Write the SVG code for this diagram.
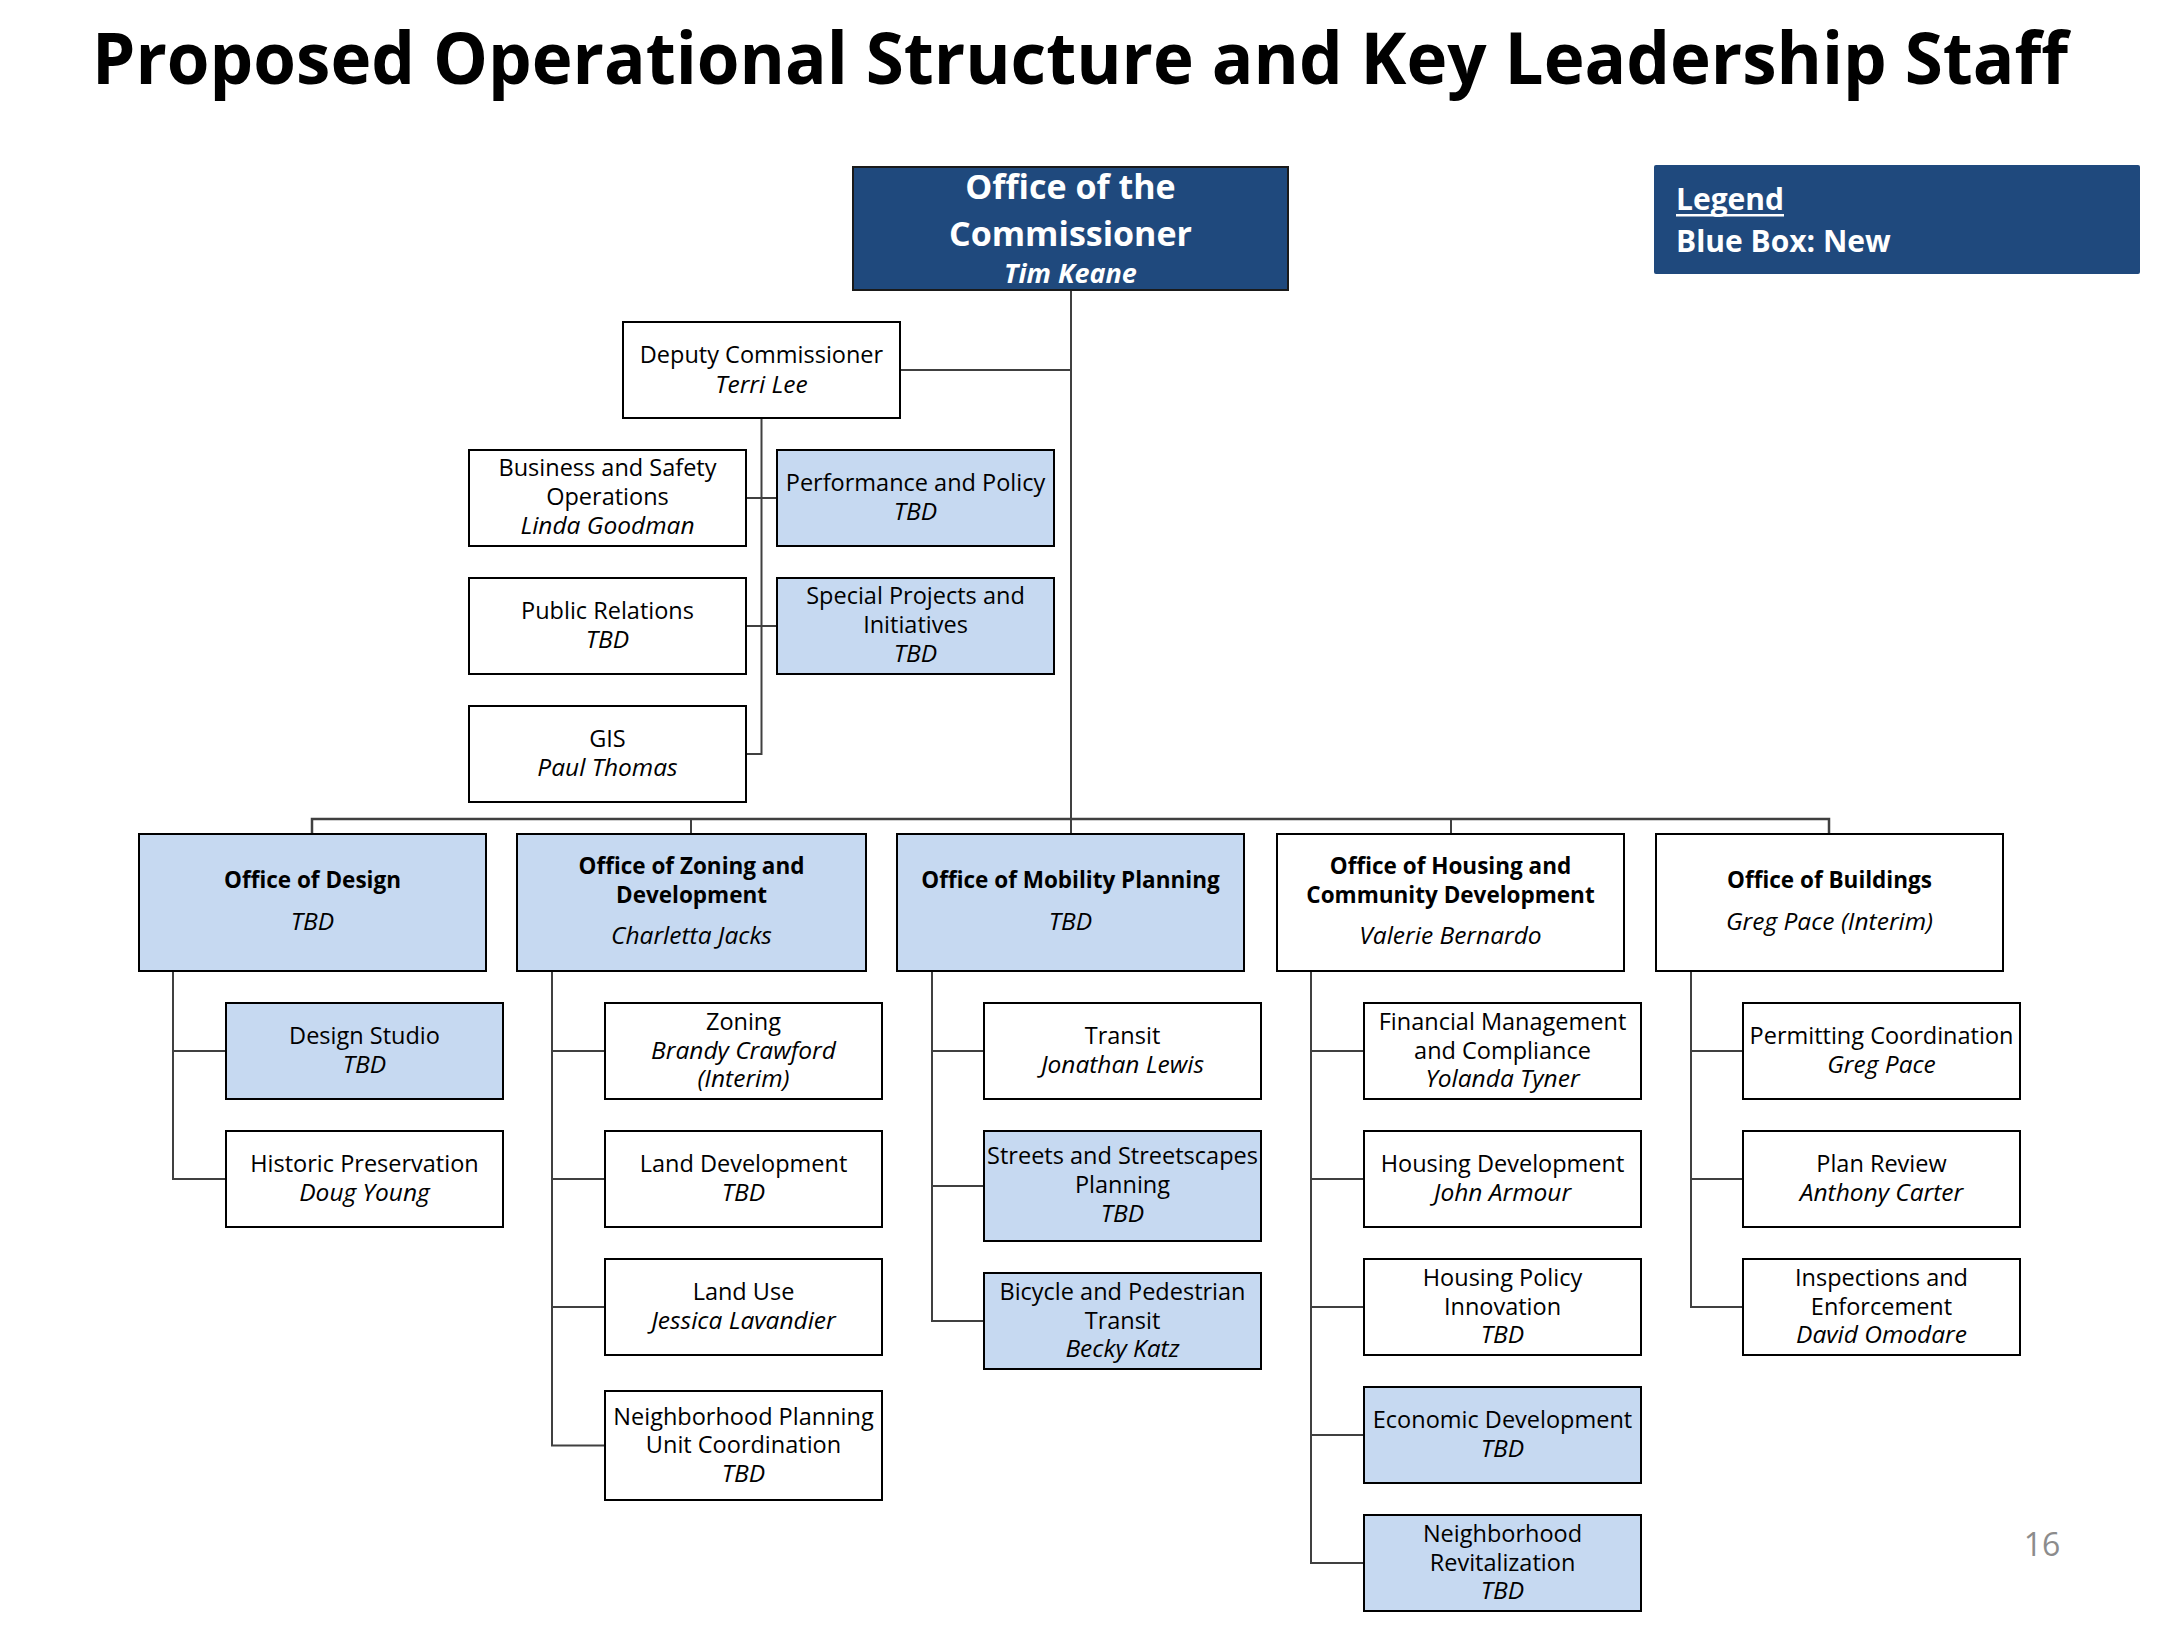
<svg xmlns="http://www.w3.org/2000/svg" width="2158" height="1632" viewBox="0 0 2158 1632">
<style>
  .box{fill:#ffffff;stroke:#000000;stroke-width:2}
  .new{fill:#C6D9F1}
  .dark{fill:#1F497D;stroke:#1a1a1a;stroke-width:2}
  .t{font-family:"Open Sans","DejaVu Sans",sans-serif;font-size:23.5px;fill:#000;text-anchor:middle}
  .i{font-style:italic;font-size:24.5px}
  .h{font-weight:bold;font-size:22.5px}
  .w{fill:#ffffff;font-weight:bold}
  .big{font-size:34px}
  .mid{font-size:27px}
  .conn{fill:none;stroke:#404040;stroke-width:2}
  .bus{fill:none;stroke:#404040;stroke-width:2.5}
</style>
<rect width="2158" height="1632" fill="#ffffff"/>
<text x="92" y="84" font-family="'Open Sans','DejaVu Sans',sans-serif" font-weight="bold" font-size="72" textLength="1976" lengthAdjust="spacingAndGlyphs" fill="#000">Proposed Operational Structure and Key Leadership Staff</text>

<g id="connectors">
  <path class="conn" d="M1071 290 V834"/>
  <path class="conn" d="M900 370 H1071"/>
  <path class="conn" d="M761.5 418 V754 H746"/>
  <path class="conn" d="M746 498 H777 M746 626 H777"/>
  <path class="bus" d="M312 834 V819 H1829 V834"/>
  <path class="conn" d="M691 819 V834 M1451 819 V834"/>
  <path class="conn" d="M173 971 V1179 H226 M173 1051 H226"/>
  <path class="conn" d="M552 971 V1445.5 H605 M552 1051 H605 M552 1179 H605 M552 1307 H605"/>
  <path class="conn" d="M932 971 V1321 H984 M932 1051 H984 M932 1186 H984"/>
  <path class="conn" d="M1311 971 V1563 H1364 M1311 1051 H1364 M1311 1179 H1364 M1311 1307 H1364 M1311 1435 H1364"/>
  <path class="conn" d="M1691 971 V1307 H1743 M1691 1051 H1743 M1691 1179 H1743"/>
</g>

<g id="commissioner">
  <rect class="dark" x="853" y="167" width="435" height="123"/>
  <text class="t w big" x="1070.5" y="199">Office of the</text>
  <text class="t w big" x="1070.5" y="246">Commissioner</text>
  <text class="t w i mid" x="1070.5" y="283">Tim Keane</text>
</g>

<g id="legend">
  <rect x="1654" y="165" width="486" height="109" fill="#1F497D" rx="2"/>
  <text x="1676" y="210" font-family="'Open Sans','DejaVu Sans',sans-serif" font-weight="bold" font-size="30" fill="#fff">Legend</text>
  <rect x="1676" y="214" width="108" height="2.5" fill="#fff"/>
  <text x="1676" y="252" font-family="'Open Sans','DejaVu Sans',sans-serif" font-weight="bold" font-size="30" fill="#fff">Blue Box: New</text>
</g>

<g id="deputy">
  <rect class="box" x="623" y="322" width="277" height="96"/>
  <text class="t" x="761.5" y="363">Deputy Commissioner</text>
  <text class="t i" x="761.5" y="393">Terri Lee</text>
</g>
<g id="business-safety">
  <rect class="box" x="469" y="450" width="277" height="96"/>
  <text class="t" x="607.5" y="476">Business and Safety</text>
  <text class="t" x="607.5" y="505">Operations</text>
  <text class="t i" x="607.5" y="534">Linda Goodman</text>
</g>
<g id="performance-policy">
  <rect class="box new" x="777" y="450" width="277" height="96"/>
  <text class="t" x="915.5" y="491">Performance and Policy</text>
  <text class="t i" x="915.5" y="520">TBD</text>
</g>
<g id="public-relations">
  <rect class="box" x="469" y="578" width="277" height="96"/>
  <text class="t" x="607.5" y="619">Public Relations</text>
  <text class="t i" x="607.5" y="648">TBD</text>
</g>
<g id="special-projects">
  <rect class="box new" x="777" y="578" width="277" height="96"/>
  <text class="t" x="915.5" y="604">Special Projects and</text>
  <text class="t" x="915.5" y="633">Initiatives</text>
  <text class="t i" x="915.5" y="662">TBD</text>
</g>
<g id="gis">
  <rect class="box" x="469" y="706" width="277" height="96"/>
  <text class="t" x="607.5" y="747">GIS</text>
  <text class="t i" x="607.5" y="776">Paul Thomas</text>
</g>

<g id="office-design">
  <rect class="box new" x="139" y="834" width="347" height="137"/>
  <text class="t h" x="312.5" y="888">Office of Design</text>
  <text class="t i" x="312.5" y="930">TBD</text>
</g>
<g id="office-zoning">
  <rect class="box new" x="517" y="834" width="349" height="137"/>
  <text class="t h" x="691.5" y="874">Office of Zoning and</text>
  <text class="t h" x="691.5" y="903">Development</text>
  <text class="t i" x="691.5" y="944">Charletta Jacks</text>
</g>
<g id="office-mobility">
  <rect class="box new" x="897" y="834" width="347" height="137"/>
  <text class="t h" x="1070.5" y="888">Office of Mobility Planning</text>
  <text class="t i" x="1070.5" y="930">TBD</text>
</g>
<g id="office-housing">
  <rect class="box" x="1277" y="834" width="347" height="137"/>
  <text class="t h" x="1450.5" y="874">Office of Housing and</text>
  <text class="t h" x="1450.5" y="903">Community Development</text>
  <text class="t i" x="1450.5" y="944">Valerie Bernardo</text>
</g>
<g id="office-buildings">
  <rect class="box" x="1656" y="834" width="347" height="137"/>
  <text class="t h" x="1829.5" y="888">Office of Buildings</text>
  <text class="t i" x="1829.5" y="930">Greg Pace (Interim)</text>
</g>

<g id="design-studio">
  <rect class="box new" x="226" y="1003" width="277" height="96"/>
  <text class="t" x="364.5" y="1044">Design Studio</text>
  <text class="t i" x="364.5" y="1073">TBD</text>
</g>
<g id="historic-preservation">
  <rect class="box" x="226" y="1131" width="277" height="96"/>
  <text class="t" x="364.5" y="1172">Historic Preservation</text>
  <text class="t i" x="364.5" y="1201">Doug Young</text>
</g>

<g id="zoning">
  <rect class="box" x="605" y="1003" width="277" height="96"/>
  <text class="t" x="743.5" y="1030">Zoning</text>
  <text class="t i" x="743.5" y="1058.5">Brandy Crawford</text>
  <text class="t i" x="743.5" y="1087">(Interim)</text>
</g>
<g id="land-development">
  <rect class="box" x="605" y="1131" width="277" height="96"/>
  <text class="t" x="743.5" y="1172">Land Development</text>
  <text class="t i" x="743.5" y="1201">TBD</text>
</g>
<g id="land-use">
  <rect class="box" x="605" y="1259" width="277" height="96"/>
  <text class="t" x="743.5" y="1300">Land Use</text>
  <text class="t i" x="743.5" y="1329">Jessica Lavandier</text>
</g>
<g id="npu-coordination">
  <rect class="box" x="605" y="1391" width="277" height="109"/>
  <text class="t" x="743.5" y="1424.5">Neighborhood Planning</text>
  <text class="t" x="743.5" y="1453">Unit Coordination</text>
  <text class="t i" x="743.5" y="1481.5">TBD</text>
</g>

<g id="transit">
  <rect class="box" x="984" y="1003" width="277" height="96"/>
  <text class="t" x="1122.5" y="1044">Transit</text>
  <text class="t i" x="1122.5" y="1073">Jonathan Lewis</text>
</g>
<g id="streets">
  <rect class="box new" x="984" y="1131" width="277" height="110"/>
  <text class="t" x="1122.5" y="1164">Streets and Streetscapes</text>
  <text class="t" x="1122.5" y="1193">Planning</text>
  <text class="t i" x="1122.5" y="1222">TBD</text>
</g>
<g id="bicycle-pedestrian">
  <rect class="box new" x="984" y="1273" width="277" height="96"/>
  <text class="t" x="1122.5" y="1300">Bicycle and Pedestrian</text>
  <text class="t" x="1122.5" y="1328.5">Transit</text>
  <text class="t i" x="1122.5" y="1357">Becky Katz</text>
</g>

<g id="financial-management">
  <rect class="box" x="1364" y="1003" width="277" height="96"/>
  <text class="t" x="1502.5" y="1030">Financial Management</text>
  <text class="t" x="1502.5" y="1058.5">and Compliance</text>
  <text class="t i" x="1502.5" y="1087">Yolanda Tyner</text>
</g>
<g id="housing-development">
  <rect class="box" x="1364" y="1131" width="277" height="96"/>
  <text class="t" x="1502.5" y="1172">Housing Development</text>
  <text class="t i" x="1502.5" y="1201">John Armour</text>
</g>
<g id="housing-policy">
  <rect class="box" x="1364" y="1259" width="277" height="96"/>
  <text class="t" x="1502.5" y="1286">Housing Policy</text>
  <text class="t" x="1502.5" y="1314.5">Innovation</text>
  <text class="t i" x="1502.5" y="1343">TBD</text>
</g>
<g id="economic-development">
  <rect class="box new" x="1364" y="1387" width="277" height="96"/>
  <text class="t" x="1502.5" y="1428">Economic Development</text>
  <text class="t i" x="1502.5" y="1457">TBD</text>
</g>
<g id="neighborhood-revitalization">
  <rect class="box new" x="1364" y="1515" width="277" height="96"/>
  <text class="t" x="1502.5" y="1542">Neighborhood</text>
  <text class="t" x="1502.5" y="1570.5">Revitalization</text>
  <text class="t i" x="1502.5" y="1599">TBD</text>
</g>

<g id="permitting-coordination">
  <rect class="box" x="1743" y="1003" width="277" height="96"/>
  <text class="t" x="1881.5" y="1044">Permitting Coordination</text>
  <text class="t i" x="1881.5" y="1073">Greg Pace</text>
</g>
<g id="plan-review">
  <rect class="box" x="1743" y="1131" width="277" height="96"/>
  <text class="t" x="1881.5" y="1172">Plan Review</text>
  <text class="t i" x="1881.5" y="1201">Anthony Carter</text>
</g>
<g id="inspections-enforcement">
  <rect class="box" x="1743" y="1259" width="277" height="96"/>
  <text class="t" x="1881.5" y="1286">Inspections and</text>
  <text class="t" x="1881.5" y="1314.5">Enforcement</text>
  <text class="t i" x="1881.5" y="1343">David Omodare</text>
</g>

<text x="2042" y="1556" font-family="'Open Sans','DejaVu Sans',sans-serif" font-size="32" fill="#8c8c8c" text-anchor="middle">16</text>
</svg>
